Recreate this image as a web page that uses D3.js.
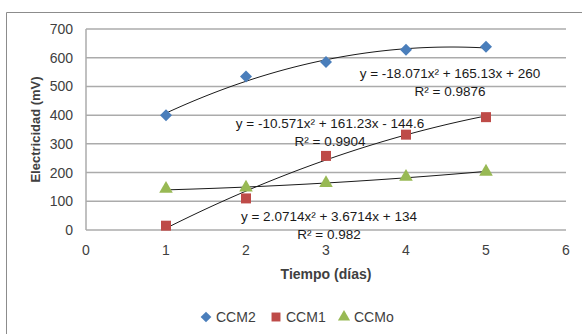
<!DOCTYPE html>
<html>
<head>
<meta charset="utf-8">
<script src="https://cdn.jsdelivr.net/npm/d3@7"></script>
<style>
  body { margin: 0; background: #fff; }
  svg { display: block; font-family: "Liberation Sans", sans-serif; }
</style>
</head>
<body>
<div id="chart"></div>
<script>
// data
const days = [1, 2, 3, 4, 5];
const ccm2 = [400, 535, 585, 628, 638];
const ccm1 = [15, 110, 258, 332, 393];
const ccmo = [143, 148, 163, 185, 203];
const xTicks = [0, 1, 2, 3, 4, 5, 6];
const yTicks = [0, 100, 200, 300, 400, 500, 600, 700];

// trendline coefficients [a, b, c] for a*x^2 + b*x + c
const fitCcm2 = [-18.071, 165.13, 260];
const fitCcm1 = [-10.571, 161.23, -144.6];
const fitCcmo = [2.0714, 3.6714, 134];
const eqLabels = ['y = -18.071x² + 165.13x + 260', 'y = -10.571x² + 161.23x - 144.6', 'y = 2.0714x² + 3.6714x + 134'];
const r2Labels = ['R² = 0.9876', 'R² = 0.9904', 'R² = 0.982'];

const series = [
  { name: 'CCM2', values: ccm2, fit: fitCcm2, color: '#4a7ebb', shape: 'diamond' },
  { name: 'CCM1', values: ccm1, fit: fitCcm1, color: '#be4b48', shape: 'square' },
  { name: 'CCMo', values: ccmo, fit: fitCcmo, color: '#98b954', shape: 'triangle' },
];

// excel-like marker shapes
const markerPath = (shape, k) => {
  if (shape === 'diamond') return d3.symbol().type(d3.symbolSquare).size(72 * k)();
  if (shape === 'square') return d3.symbol().type(d3.symbolSquare).size(100 * k)();
  return d3.symbol().type(d3.symbolTriangle).size(80 * k)();
};
const markerRot = shape => shape === 'diamond' ? ' rotate(45)' : '';

const width = 582, height = 334;
const margin = { left: 86, top: 29, right: 16, bottom: 104 };

const svg = d3.select('#chart')
  .append('svg')
  .attr('width', width)
  .attr('height', height);

// chart frame
svg.append('path')
  .attr('d', `M6.5,${height} V12.5 H${width}`)
  .attr('fill', 'none')
  .attr('stroke', '#8c8c8c')
  .attr('stroke-width', 1);

const x = d3.scaleLinear().domain([0, 6]).range([margin.left, width - margin.right]);
const y = d3.scaleLinear().domain([0, 700]).range([height - margin.bottom, margin.top]);

// gridlines
svg.append('g')
  .selectAll('line')
  .data(yTicks)
  .enter()
  .append('line')
  .attr('x1', x(0))
  .attr('x2', x(6))
  .attr('y1', d => y(d))
  .attr('y2', d => y(d))
  .attr('stroke', '#ababab')
  .attr('stroke-width', 1.5);

// y axis line
svg.append('line')
  .attr('x1', x(0)).attr('x2', x(0))
  .attr('y1', y(0)).attr('y2', y(700))
  .attr('stroke', '#ababab')
  .attr('stroke-width', 1.5);

// tick labels
svg.append('g')
  .selectAll('text')
  .data(yTicks)
  .enter()
  .append('text')
  .attr('x', x(0) - 13)
  .attr('y', d => y(d) + 5)
  .attr('text-anchor', 'end')
  .style('font-size', '14px')
  .style('fill', '#404040')
  .text(d => d);

svg.append('g')
  .selectAll('text')
  .data(xTicks)
  .enter()
  .append('text')
  .attr('x', d => x(d))
  .attr('y', y(0) + 25)
  .attr('text-anchor', 'middle')
  .style('font-size', '14px')
  .style('fill', '#404040')
  .text(d => d);

// axis titles
svg.append('text')
  .attr('x', x(3))
  .attr('y', 279)
  .attr('text-anchor', 'middle')
  .style('font-size', '14px')
  .style('font-weight', 'bold')
  .style('fill', '#404040')
  .text('Tiempo (días)');

svg.append('text')
  .attr('transform', `translate(40, ${y(350)}) rotate(-90)`)
  .attr('text-anchor', 'middle')
  .style('font-size', '13px')
  .style('font-weight', 'bold')
  .style('fill', '#404040')
  .text('Electricidad (mV)');

// trendlines
const line = d3.line().x(d => x(d[0])).y(d => y(d[1]));
series.forEach(s => {
  const pts = d3.range(days[0], days[days.length - 1] + 0.001, 0.05)
    .map(t => [t, s.fit[0] * t * t + s.fit[1] * t + s.fit[2]]);
  svg.append('path')
    .attr('d', line(pts))
    .attr('fill', 'none')
    .attr('stroke', '#1a1a1a')
    .attr('stroke-width', 1);
});

// markers
series.forEach(s => {
  svg.append('g')
    .selectAll('path')
    .data(s.values)
    .enter()
    .append('path')
    .attr('transform', (d, i) => `translate(${x(days[i])}, ${y(d)})${markerRot(s.shape)}`)
    .attr('d', markerPath(s.shape, 1))
    .attr('fill', s.color);
});

// equation labels
const eqPos = [[450, 78], [330, 128], [329, 221]];
eqLabels.forEach((t, i) => {
  const g = svg.append('g').style('font-size', '13.5px').style('fill', '#1a1a1a');
  g.append('text')
    .attr('x', eqPos[i][0]).attr('y', eqPos[i][1])
    .attr('text-anchor', 'middle')
    .text(t);
  g.append('text')
    .attr('x', eqPos[i][0]).attr('y', eqPos[i][1] + 18)
    .attr('text-anchor', 'middle')
    .text(r2Labels[i]);
});

// legend
const legendX = [206, 276, 344];
series.forEach((s, i) => {
  const item = svg.append('g').attr('transform', `translate(${legendX[i]}, 317)`);
  item.append('path')
    .attr('transform', markerRot(s.shape))
    .attr('d', markerPath(s.shape, 0.8))
    .attr('fill', s.color);
  item.append('text')
    .attr('x', 10)
    .attr('y', 5)
    .style('font-size', '14px')
    .style('fill', '#404040')
    .text(s.name);
});
</script>
</body>
</html>
